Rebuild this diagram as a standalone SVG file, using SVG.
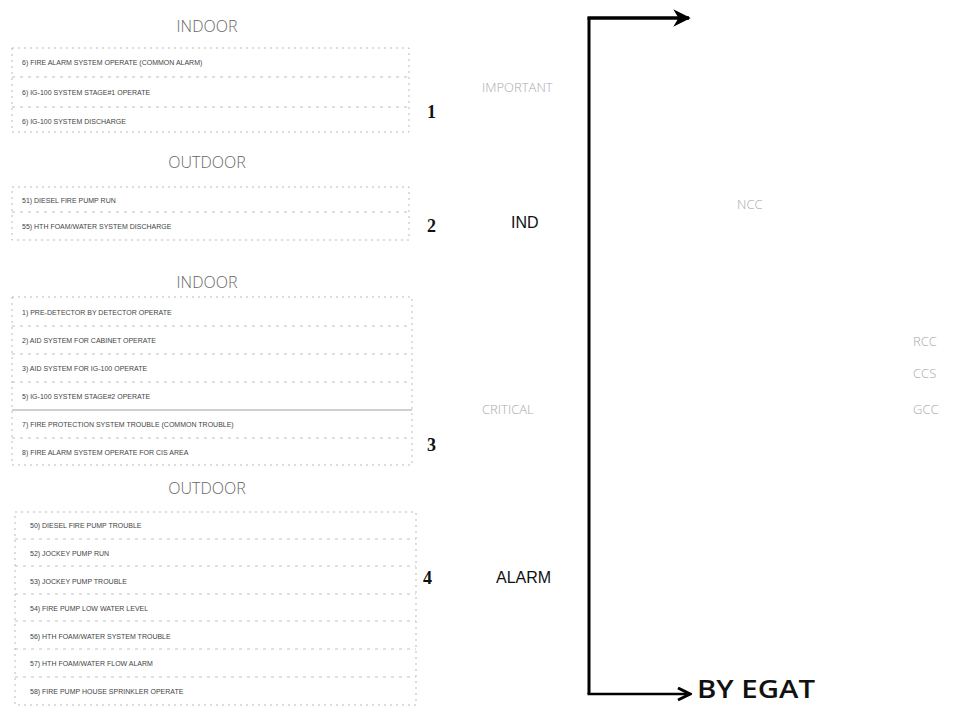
<svg xmlns="http://www.w3.org/2000/svg" width="974" height="713" viewBox="0 0 974 713">
<style>
.title{font-family:"Open Sans","Liberation Sans",sans-serif;font-size:16px;fill:#666;text-anchor:middle;font-weight:300}
.row{font-family:"Liberation Sans",sans-serif;font-size:7px;fill:#444}
.box{fill:none;stroke:#aaa;stroke-width:0.8;stroke-dasharray:2 4}
.sep{stroke:#b0b0b0;stroke-width:0.8;stroke-dasharray:3 5}
.num{font-family:"Liberation Serif",serif;font-size:18px;font-weight:bold;fill:#111}
.mid{font-family:"Liberation Sans",sans-serif;font-size:16px;fill:#111}
.faint{font-family:"Open Sans","Liberation Sans",sans-serif;font-size:13px;fill:#aaa;font-weight:300}
</style>
<defs>
<marker id="ah" viewBox="0 0 10 10" refX="9" refY="5" markerWidth="5" markerHeight="5" orient="auto" markerUnits="strokeWidth">
<path d="M0,0 L10,5 L0,10 L3,5 Z" fill="#000"/>
</marker>
<marker id="ah2" viewBox="0 0 10 10" refX="9" refY="5" markerWidth="6" markerHeight="6" orient="auto" markerUnits="strokeWidth">
<path d="M1,1 L9,5 L1,9" fill="none" stroke="#000" stroke-width="2"/>
</marker>
</defs>

<g id="group1">
<text class="title" x="207" y="32">INDOOR</text>
<rect class="box" x="12" y="48" width="397" height="84"/>
<line class="sep" x1="12" y1="77" x2="409" y2="77"/>
<line class="sep" x1="12" y1="107" x2="409" y2="107"/>
<text class="row" x="22" y="65">6) FIRE ALARM SYSTEM OPERATE (COMMON ALARM)</text>
<text class="row" x="22" y="95">6) IG-100 SYSTEM STAGE#1 OPERATE</text>
<text class="row" x="22" y="124">6) IG-100 SYSTEM DISCHARGE</text>
<text class="num" x="427" y="118">1</text>
</g>

<g id="group2">
<text class="title" x="207" y="168">OUTDOOR</text>
<rect class="box" x="12" y="187" width="397" height="53"/>
<line class="sep" x1="12" y1="212" x2="409" y2="212"/>
<text class="row" x="22" y="203">51) DIESEL FIRE PUMP RUN</text>
<text class="row" x="22" y="229">55) HTH FOAM/WATER SYSTEM DISCHARGE</text>
<text class="num" x="427" y="232">2</text>
</g>

<g id="group3">
<text class="title" x="207" y="288">INDOOR</text>
<rect class="box" x="12" y="297" width="400" height="168"/>
<line class="sep" x1="12" y1="326" x2="412" y2="326"/>
<line class="sep" x1="12" y1="354" x2="412" y2="354"/>
<line class="sep" x1="12" y1="382" x2="412" y2="382"/>
<line x1="12" y1="410" x2="412" y2="410" stroke="#888" stroke-width="0.8"/>
<line class="sep" x1="12" y1="438" x2="412" y2="438"/>
<text class="row" x="22" y="315">1) PRE-DETECTOR BY DETECTOR OPERATE</text>
<text class="row" x="22" y="343">2) AID SYSTEM FOR CABINET OPERATE</text>
<text class="row" x="22" y="371">3) AID SYSTEM FOR IG-100 OPERATE</text>
<text class="row" x="22" y="399">5) IG-100 SYSTEM STAGE#2 OPERATE</text>
<text class="row" x="22" y="427">7) FIRE PROTECTION SYSTEM TROUBLE (COMMON TROUBLE)</text>
<text class="row" x="22" y="455">8) FIRE ALARM SYSTEM OPERATE FOR CIS AREA</text>
<text class="num" x="427" y="451">3</text>
</g>

<g id="group4">
<text class="title" x="207" y="494">OUTDOOR</text>
<rect class="box" x="15" y="512" width="401" height="193"/>
<line class="sep" x1="15" y1="539" x2="416" y2="539"/>
<line class="sep" x1="15" y1="566" x2="416" y2="566"/>
<line class="sep" x1="15" y1="594" x2="416" y2="594"/>
<line class="sep" x1="15" y1="621" x2="416" y2="621"/>
<line class="sep" x1="15" y1="649" x2="416" y2="649"/>
<line class="sep" x1="15" y1="677" x2="416" y2="677"/>
<text class="row" x="30" y="528">50) DIESEL FIRE PUMP TROUBLE</text>
<text class="row" x="30" y="556">52) JOCKEY PUMP RUN</text>
<text class="row" x="30" y="584">53) JOCKEY PUMP TROUBLE</text>
<text class="row" x="30" y="611">54) FIRE PUMP LOW WATER LEVEL</text>
<text class="row" x="30" y="639">56) HTH FOAM/WATER SYSTEM TROUBLE</text>
<text class="row" x="30" y="666">57) HTH FOAM/WATER FLOW ALARM</text>
<text class="row" x="30" y="694">58) FIRE PUMP HOUSE SPRINKLER OPERATE</text>
<text class="num" x="423" y="584">4</text>
</g>

<g id="labels">
<text class="faint" x="482" y="92">IMPORTANT</text>
<text class="mid" x="511" y="228">IND</text>
<text class="faint" x="482" y="414">CRITICAL</text>
<text class="mid" x="496" y="583">ALARM</text>
<text class="faint" x="737" y="209">NCC</text>
<text class="faint" x="913" y="346">RCC</text>
<text class="faint" x="913" y="378">CCS</text>
<text class="faint" x="913" y="414">GCC</text>
<text x="697" y="698" font-family="Open Sans, Liberation Sans, sans-serif" font-size="26" font-weight="600" fill="#111" textLength="118" lengthAdjust="spacingAndGlyphs">BY EGAT</text>
</g>

<g id="connectors" fill="none" stroke="#000">
<line x1="589" y1="17" x2="589" y2="694" stroke-width="3"/>
<line x1="587.5" y1="18" x2="689" y2="18" stroke-width="3.5" marker-end="url(#ah)"/>
<line x1="587.5" y1="694" x2="690" y2="694" stroke-width="2.5" marker-end="url(#ah2)"/>
</g>
</svg>
